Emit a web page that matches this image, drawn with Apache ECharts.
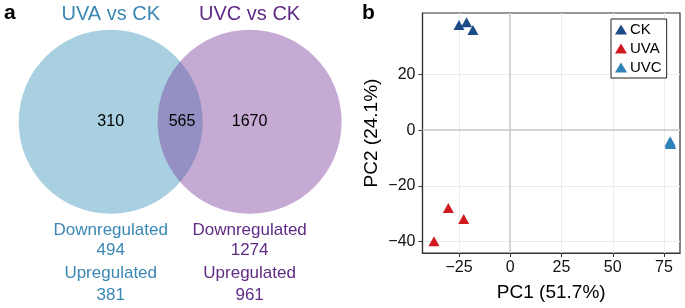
<!DOCTYPE html>
<html>
<head>
<meta charset="utf-8">
<script src="https://cdn.jsdelivr.net/npm/echarts@6/dist/echarts.min.js"></script>
<style>
  html, body { margin: 0; padding: 0; background: #fff; }
  #chart { width: 685px; height: 308px; }
</style>
</head>
<body>
<div id="chart"></div>
<script>
  // Venn counts
  const vennSets = ['UVA vs CK', 'UVC vs CK'];
  const vennCounts = [310, 565, 1670]; // UVA only, shared, UVC only
  const downregulated = [494, 1274];
  const upregulated = [381, 961];

  // PCA scores
  const pcaGroups = ['CK', 'UVA', 'UVC'];
  const ckPoints = [[-25.0, 37.9], [-21.3, 38.9], [-18.2, 36.1]];
  const uvaPoints = [[-37.2, -40.0], [-30.2, -28.0], [-22.7, -32.0]];
  const uvcPoints = [[78.0, -4.0], [78.0, -4.6], [78.2, -5.0]];
  const pc1Ticks = [-25, 0, 25, 50, 75];
  const pc2Ticks = [-40, -20, 0, 20];

  // layout of the venn panel, in units of the circle radius
  const venn = { r: 92, cx: [0, 1.51], shareX: 0.775, titleY: 1.16,
                 rows: [-1.177, -1.395, -1.645, -1.885] };
  const setColors = ['#3a87b5', '#5f2b85'];
  const groupColors = ['#1b4b85', '#d01a20', '#2e82b8'];
  const font = 'Liberation Sans';

  const chart = echarts.init(document.getElementById('chart'));

  function textItem(x, y, text, size, color) {
    return {
      value: [x, y],
      label: { show: true, position: 'inside', formatter: text,
               fontSize: size, color: color, fontFamily: font }
    };
  }

  const vennText = [
    textItem(venn.cx[0], venn.titleY, vennSets[0], 20, setColors[0]),
    textItem(venn.cx[1], venn.titleY, vennSets[1], 20, setColors[1]),
    textItem(venn.cx[0], 0, String(vennCounts[0]), 16, '#000'),
    textItem(venn.shareX, 0, String(vennCounts[1]), 16, '#000'),
    textItem(venn.cx[1], 0, String(vennCounts[2]), 16, '#000')
  ];
  for (let i = 0; i < 2; i++) {
    vennText.push(textItem(venn.cx[i], venn.rows[0], 'Downregulated', 17, setColors[i]));
    vennText.push(textItem(venn.cx[i], venn.rows[1], String(downregulated[i]), 17, setColors[i]));
    vennText.push(textItem(venn.cx[i], venn.rows[2], 'Upregulated', 17, setColors[i]));
    vennText.push(textItem(venn.cx[i], venn.rows[3], String(upregulated[i]), 17, setColors[i]));
  }

  const minus = v => String(v).replace('-', '\u2212');

  function pcaSeries(name, data, color) {
    return {
      name: name, type: 'scatter', xAxisIndex: 1, yAxisIndex: 1,
      symbol: 'triangle', symbolSize: [11, 10],
      itemStyle: { color: color, opacity: 1 },
      data: data, z: 5
    };
  }

  chart.setOption({
    backgroundColor: '#fff',
    animation: false,
    textStyle: { fontFamily: font },
    graphic: [
      { type: 'text', left: 4, top: 3, style: { text: 'a', font: 'bold 21px ' + font, fill: '#000' } },
      { type: 'text', left: 362, top: 3, style: { text: 'b', font: 'bold 21px ' + font, fill: '#000' } }
    ],
    legend: {
      data: pcaGroups.map(g => ({ name: g, icon: 'triangle' })),
      orient: 'vertical', left: 611, top: 19,
      padding: [3, 5, 3, 4], itemGap: 4, itemWidth: 12, itemHeight: 10,
      borderColor: '#222', borderWidth: 1, backgroundColor: '#fff',
      textStyle: { fontSize: 15, color: '#000', fontFamily: font, padding: [0, 0, 0, -2] }
    },
    grid: [
      { left: 0, top: 0, width: 340, height: 308 },
      { left: 422.5, right: 5, top: 13, bottom: 55, show: true,
        borderColor: '#333', borderWidth: 1.2, backgroundColor: '#fff' }
    ],
    xAxis: [
      { gridIndex: 0, type: 'value', show: false,
        min: -110.7 / venn.r, max: (340 - 110.7) / venn.r },
      { gridIndex: 1, type: 'value', min: -42.8, max: 82.8,
        name: 'PC1 (51.7%)', nameLocation: 'middle', nameGap: 30,
        nameTextStyle: { fontSize: 19, color: '#000', fontFamily: font },
        axisLine: { show: true, onZero: false, lineStyle: { color: '#333', width: 1.2 } },
        axisTick: { show: true, length: 4, customValues: pc1Ticks, lineStyle: { color: '#333' } },
        axisLabel: { customValues: pc1Ticks, fontSize: 16, color: '#111', margin: 7,
                     fontFamily: font, formatter: minus },
        splitLine: { show: true, lineStyle: { color: '#ebebeb', width: 1 } }
      }
    ],
    yAxis: [
      { gridIndex: 0, type: 'value', show: false,
        min: -(308 - 121.7) / venn.r, max: 121.7 / venn.r },
      { gridIndex: 1, type: 'value', min: -44.2, max: 42.2,
        name: 'PC2 (24.1%)', nameLocation: 'middle', nameGap: 41, nameRotate: 90,
        nameTextStyle: { fontSize: 19, color: '#000', fontFamily: font },
        axisLine: { show: true, onZero: false, lineStyle: { color: '#333', width: 1.2 } },
        axisTick: { show: true, length: 4, customValues: pc2Ticks, lineStyle: { color: '#333' } },
        axisLabel: { customValues: pc2Ticks, fontSize: 16, color: '#111', margin: 7,
                     fontFamily: font, formatter: minus },
        splitLine: { show: true, lineStyle: { color: '#ebebeb', width: 1 } }
      }
    ],
    series: [
      {
        name: 'venn', type: 'scatter', xAxisIndex: 0, yAxisIndex: 0,
        symbol: 'circle', symbolSize: venn.r * 2, silent: true,
        data: [
          { value: [venn.cx[0], 0], itemStyle: { color: '#a8d0e1', opacity: 1 } },
          { value: [venn.cx[1], 0], itemStyle: { color: '#7f42a0', opacity: 0.45 } }
        ]
      },
      {
        name: 'venn text', type: 'scatter', xAxisIndex: 0, yAxisIndex: 0,
        symbolSize: 0, silent: true, z: 10, itemStyle: { opacity: 1 }, data: vennText
      },
      {
        name: 'zero', type: 'scatter', xAxisIndex: 1, yAxisIndex: 1, data: [],
        markLine: {
          silent: true, symbol: 'none', label: { show: false },
          lineStyle: { color: '#c8c8c8', width: 1.5, type: 'solid' },
          data: [{ xAxis: 0 }, { yAxis: 0 }]
        }
      },
      pcaSeries(pcaGroups[0], ckPoints, groupColors[0]),
      pcaSeries(pcaGroups[1], uvaPoints, groupColors[1]),
      pcaSeries(pcaGroups[2], uvcPoints, groupColors[2])
    ]
  });
</script>
</body>
</html>
